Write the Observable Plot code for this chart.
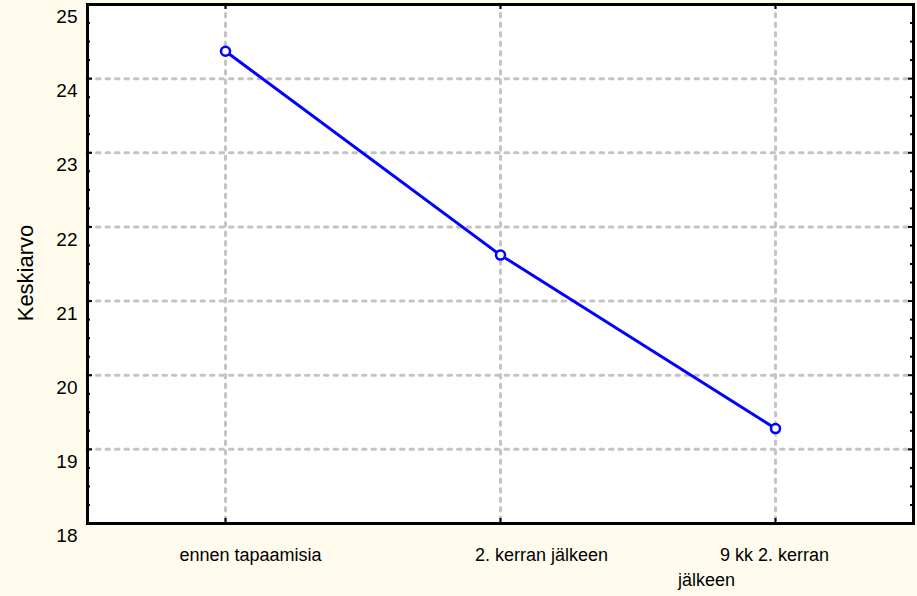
<!DOCTYPE html>
<html><head><meta charset="utf-8">
<script src="https://cdn.jsdelivr.net/npm/d3@7"></script>
<script src="https://cdn.jsdelivr.net/npm/@observablehq/plot@0.6"></script>
<style>
html,body{margin:0;padding:0;background:#fffcee;}
#chart svg{display:block;}
</style></head><body><div id="chart"></div>
<script>
const categories = ["ennen tapaamisia", "2. kerran jälkeen", "9 kk 2. kerran jälkeen"];
const means = [24.37, 21.62, 19.28];
const yTicks = [18, 19, 20, 21, 22, 23, 24, 25];
const gridValues = [19, 20, 21, 22, 23, 24];
const minorTicks = [18.25, 18.5, 18.75, 19.25, 19.5, 19.75, 20.25, 20.5, 20.75, 21.25, 21.5, 21.75,
  22.25, 22.5, 22.75, 23.25, 23.5, 23.75, 24.25, 24.5, 24.75];
const xLabelLines = [["ennen tapaamisia"], ["2. kerran jälkeen"], ["9 kk 2. kerran", "jälkeen"]];
const yLabel = "Keskiarvo";

const W = 917, H = 596, mL = 87, mR = 4, mT = 4, mB = 73;
const plotW = W - mL - mR;
const labelDx = [[25], [41], [-1, -69]];

const data = categories.map((c, i) => ({cat: c, mean: means[i]}));
const grid = {stroke: "#c4c4c4", strokeOpacity: 1, strokeWidth: 3, strokeDasharray: "3.5,6", strokeLinecap: "round"};

const labelMarks = [];
xLabelLines.forEach((lines, i) => {
  lines.forEach((t, j) => {
    labelMarks.push(Plot.text([categories[i]], {
      x: d => d, text: () => t, frameAnchor: "bottom", dy: 37 + 25 * j, dx: labelDx[i][j],
      fontSize: 18, fill: "black"
    }));
  });
});

const chart = Plot.plot({
  width: W, height: H,
  marginLeft: mL, marginRight: mR, marginTop: mT, marginBottom: mB,
  style: {background: "transparent", fontFamily: "'Liberation Sans', Arial, sans-serif", fontSize: "18px", color: "black"},
  x: {type: "point", domain: categories, padding: 0.5, axis: null},
  y: {domain: [18, 25], axis: null},
  marks: [
    Plot.frame({fill: "white"}),
    Plot.gridY(gridValues, grid),
    Plot.gridX(categories, grid),
    Plot.ruleY(yTicks, {stroke: "black", strokeWidth: 2, insetRight: plotW - 5}),
    Plot.ruleY(minorTicks, {stroke: "black", strokeWidth: 2, insetRight: plotW - 3}),
    Plot.ruleY(yTicks, {stroke: "black", strokeWidth: 2, insetLeft: plotW - 5}),
    Plot.ruleY(minorTicks, {stroke: "black", strokeWidth: 2, insetLeft: plotW - 3}),
    Plot.ruleX(categories, {stroke: "black", strokeWidth: 2, insetTop: H - mT - mB - 5}),
    Plot.ruleX(categories, {stroke: "black", strokeWidth: 2, insetBottom: H - mT - mB - 5}),
    Plot.axisY(yTicks, {anchor: "left", tickSize: 0, tickPadding: 10, dy: 12.5, fontSize: 19, label: null, tickFormat: d => String(d)}),
    Plot.text([yLabel], {text: d => d, frameAnchor: "left", textAnchor: "middle", dx: -62, dy: 9, rotate: -90, fontSize: 22, fill: "black"}),
    ...labelMarks,
    Plot.line(data, {x: "cat", y: "mean", stroke: "#0000ff", strokeWidth: 3}),
    Plot.dot(data, {x: "cat", y: "mean", r: 4.5, stroke: "#0000ff", strokeWidth: 2.5, fill: "white"}),
    Plot.frame({stroke: "black", strokeWidth: 3})
  ]
});
document.getElementById("chart").appendChild(chart);
</script></body></html>
